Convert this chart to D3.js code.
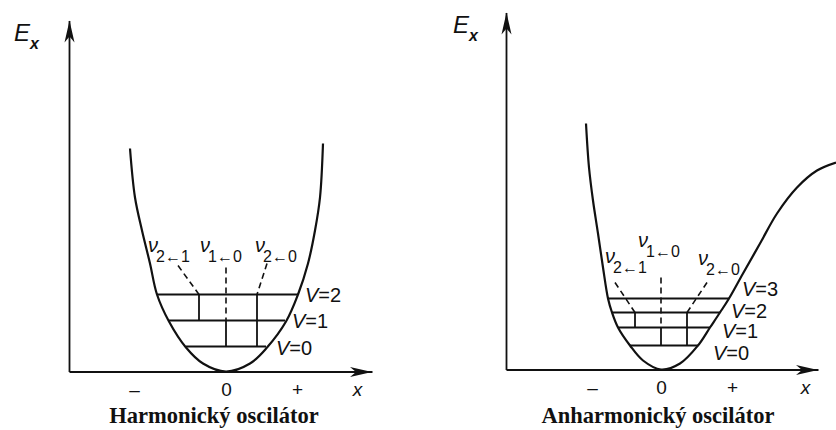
<!DOCTYPE html>
<html>
<head>
<meta charset="utf-8">
<script src="https://cdn.jsdelivr.net/npm/d3@7"></script>
<style>
  body { margin: 0; background: #fff; }
  svg { display: block; }
  .curve { fill: none; stroke: #111; stroke-width: 2.2; }
  .level { stroke: #111; stroke-width: 1.8; }
  .trans { stroke: #111; stroke-width: 1.8; }
  .dash { stroke: #111; stroke-width: 1.6; stroke-dasharray: 6 4; fill: none; }
  .arrow { fill: #111; }
  .axis path { stroke: #111; stroke-width: 1.8; }
  .axis text { font-family: "Liberation Sans", Arial, sans-serif; fill: #111; }
  .lbl { font-family: "Liberation Sans", Arial, sans-serif; fill: #111; }
  .title { font-family: "Liberation Serif", "Times New Roman", serif; font-weight: bold; font-size: 22.5px; fill: #111; }
</style>
</head>
<body>
<div id="vis"></div>
<script>
// harmonic oscillator (x and E in arbitrary units)
const HARM_X = [-9.6, -9.1, -8.4, -7.6, -6.9, -5.7, -4.0, -2.3, 0, 2.4, 4.1, 6.0, 7.2, 8.2, 8.9, 9.4, 9.7];
const HARM_E = [22.3, 17.4, 14.1, 10.8, 7.7, 5.0, 2.4, 0.8, 0, 0.8, 2.4, 5.0, 7.7, 10.8, 14.1, 17.4, 22.8];
const HARM_LEVEL_NAMES = ["V=0", "V=1", "V=2"];
const HARM_LEVELS = [2.5, 5.1, 7.7];
const HARM_LEVEL_LEFT = [-4.0, -5.8, -6.9];
const HARM_LEVEL_RIGHT = [4.0, 5.9, 7.2];
const HARM_LEVEL_LBL_X = [5.0, 6.6, 7.9];
const HARM_LEVEL_LBL_E = [1.65, 4.35, 6.95];
const HARM_TRANS = ["2←1", "1←0", "2←0"];
const HARM_TRANS_X = [-2.7, 0, 3.1];
const HARM_TRANS_FROM = [1, 0, 0];
const HARM_TRANS_TO = [2, 1, 2];
const HARM_DASH_X = [-4.8, 0, 4.1];
const HARM_DASH_E = [10.6, 10.4, 10.8];
const HARM_TRANS_LBL_X = [-7.8, -2.6, 2.9];
const HARM_TRANS_LBL_E = [11.95, 11.95, 11.95];
const HARM_TICKS = [-9.2, 0, 7.1, 13.1];
const HARM_TICK_LABELS = ["–", "0", "+", "x"];

// anharmonic oscillator
const ANH_X = [-7.5, -7.2, -6.8, -6.3, -5.8, -5.3, -4.9, -4.3, -3.1, -1.8, 0, 1.9, 3.7, 4.9, 5.9, 6.8, 8.2, 9.9, 11.6, 13.6, 15.6, 17.5];
const ANH_E = [24.6, 20.2, 16.9, 13.6, 10.2, 7.1, 5.7, 4.2, 2.4, 0.9, 0, 0.6, 2.4, 4.2, 5.7, 7.1, 9.6, 12.6, 15.6, 18.2, 19.9, 20.7];
const ANH_LEVEL_NAMES = ["V=0", "V=1", "V=2", "V=3"];
const ANH_LEVELS = [2.4, 4.2, 5.7, 7.1];
const ANH_LEVEL_LEFT = [-3.1, -4.3, -4.9, -5.3];
const ANH_LEVEL_RIGHT = [3.7, 4.9, 5.9, 6.8];
const ANH_LEVEL_LBL_X = [5.2, 6.1, 7.0, 8.1];
const ANH_LEVEL_LBL_E = [1.0, 3.2, 5.2, 7.4];
const ANH_TRANS = ["2←1", "1←0", "2←0"];
const ANH_TRANS_X = [-2.6, 0, 2.6];
const ANH_TRANS_FROM = [1, 0, 0];
const ANH_TRANS_TO = [2, 1, 2];
const ANH_DASH_X = [-4.6, 0, 4.6];
const ANH_DASH_E = [8.7, 9.2, 8.7];
const ANH_TRANS_LBL_X = [-5.6, -2.3, 3.7];
const ANH_TRANS_LBL_E = [10.65, 12.25, 10.45];
const ANH_TICKS = [-6.9, 0, 7.1, 14.4];
const ANH_TICK_LABELS = ["–", "0", "+", "x"];

const FRAME_WIDTH = 836;
const FRAME_HEIGHT = 430;

const FRAME = d3.select("#vis")
                .append("svg")
                  .attr("width", FRAME_WIDTH)
                  .attr("height", FRAME_HEIGHT);

FRAME.append("rect").attr("width", FRAME_WIDTH).attr("height", FRAME_HEIGHT).attr("fill", "#fff");

function arrowHead(g, x, y, dir) {
  // long narrow arrow head with a notched back
  const pts = dir === "up"
    ? [[x, y], [x - 5, y + 22], [x, y + 16], [x + 5, y + 22]]
    : [[x, y], [x - 22, y - 5], [x - 16, y], [x - 22, y + 5]];
  g.append("path")
    .attr("class", "arrow")
    .attr("d", d3.line()(pts) + "Z");
}

function drawPanel(p) {
  const g = FRAME.append("g");
  const X = d3.scaleLinear().domain(p.xDomain).range(p.xRange);
  const Y = d3.scaleLinear().domain(p.eDomain).range(p.yRange);

  // axes
  g.append("g")
    .attr("class", "axis")
    .attr("transform", "translate(0," + Y(0) + ")")
    .call(d3.axisBottom(X).tickValues(p.ticks).tickSize(0).tickSizeOuter(0).tickPadding(11)
      .tickFormat((d, i) => p.tickLabels[i]))
    .call(a => a.selectAll("text").attr("font-size", "19px")
      .attr("font-style", (d, i) => i === 3 ? "italic" : "normal"));

  g.append("g")
    .attr("class", "axis")
    .attr("transform", "translate(" + X(p.xDomain[0]) + ",0)")
    .call(d3.axisLeft(Y).tickValues([]).tickSizeOuter(0));

  arrowHead(g, X(p.xDomain[1]), Y(0) + 0.5, "right");
  arrowHead(g, X(p.xDomain[0]) + 0.5, Y(p.eDomain[1]), "up");

  // E_x label
  const ex = g.append("text").attr("class", "lbl")
    .attr("x", X(p.xDomain[0]) - p.exOffset)
    .attr("y", Y(p.eDomain[1]) + 20)
    .attr("font-size", "24px").attr("font-style", "italic");
  ex.append("tspan").text("E");
  ex.append("tspan").attr("dy", 8).attr("font-size", "16px").attr("font-weight", "bold").text("x");

  // potential curve
  const pts = p.xs.map((x, i) => [X(x), Y(p.es[i])]);
  g.append("path")
    .attr("class", "curve")
    .attr("d", d3.line().curve(d3.curveCatmullRom.alpha(0.5))(pts));

  // vibrational levels
  g.selectAll(".level")
    .data(p.levels)
    .enter()
    .append("line")
      .attr("class", "level")
      .attr("x1", (d, i) => X(p.levelLeft[i]))
      .attr("x2", (d, i) => X(p.levelRight[i]))
      .attr("y1", d => Y(d))
      .attr("y2", d => Y(d));

  g.selectAll(".vlbl")
    .data(p.levelNames)
    .enter()
    .append("text")
      .attr("class", "lbl")
      .attr("font-size", "20px")
      .attr("x", (d, i) => X(p.levelLblX[i]))
      .attr("y", (d, i) => Y(p.levelLblE[i]))
      .each(function (d) {
        const t = d3.select(this);
        t.append("tspan").attr("font-style", "italic").text(d[0]);
        t.append("tspan").text(d.slice(1));
      });

  // transitions: solid between levels, dashed leader up to the label
  p.trans.forEach((name, i) => {
    const tx = X(p.transX[i]);
    g.append("line").attr("class", "trans")
      .attr("x1", tx).attr("x2", tx)
      .attr("y1", Y(p.levels[p.transFrom[i]]))
      .attr("y2", Y(p.levels[p.transTo[i]]));
    g.append("line").attr("class", "dash")
      .attr("x1", X(p.dashX[i])).attr("y1", Y(p.dashE[i]))
      .attr("x2", tx).attr("y2", Y(p.levels[p.transTo[i]]));

    const t = g.append("text").attr("class", "lbl")
      .attr("x", X(p.transLblX[i]))
      .attr("y", Y(p.transLblE[i]));
    t.append("tspan").attr("font-size", "20px").attr("font-style", "italic").text("ν");
    t.append("tspan").attr("dy", 10).attr("dx", -2).attr("font-size", "16px").text(name);
  });

  // title
  g.append("text").attr("class", "title")
    .attr("text-anchor", "middle")
    .attr("x", p.titleX).attr("y", 423)
    .text(p.title);
}

drawPanel({
  xs: HARM_X, es: HARM_E,
  xDomain: [-15.7, 14.6], xRange: [69, 372],
  eDomain: [0, 35.1], yRange: [371.5, 20.5],
  levels: HARM_LEVELS, levelNames: HARM_LEVEL_NAMES,
  levelLeft: HARM_LEVEL_LEFT, levelRight: HARM_LEVEL_RIGHT,
  levelLblX: HARM_LEVEL_LBL_X, levelLblE: HARM_LEVEL_LBL_E,
  trans: HARM_TRANS, transX: HARM_TRANS_X, transFrom: HARM_TRANS_FROM, transTo: HARM_TRANS_TO,
  dashX: HARM_DASH_X, dashE: HARM_DASH_E,
  transLblX: HARM_TRANS_LBL_X, transLblE: HARM_TRANS_LBL_E,
  ticks: HARM_TICKS, tickLabels: HARM_TICK_LABELS,
  exOffset: 55,
  title: "Harmonický oscilátor", titleX: 214
});

drawPanel({
  xs: ANH_X, es: ANH_E,
  xDomain: [-15.5, 15.7], xRange: [506, 818],
  eDomain: [0, 35.7], yRange: [369.5, 12.5],
  levels: ANH_LEVELS, levelNames: ANH_LEVEL_NAMES,
  levelLeft: ANH_LEVEL_LEFT, levelRight: ANH_LEVEL_RIGHT,
  levelLblX: ANH_LEVEL_LBL_X, levelLblE: ANH_LEVEL_LBL_E,
  trans: ANH_TRANS, transX: ANH_TRANS_X, transFrom: ANH_TRANS_FROM, transTo: ANH_TRANS_TO,
  dashX: ANH_DASH_X, dashE: ANH_DASH_E,
  transLblX: ANH_TRANS_LBL_X, transLblE: ANH_TRANS_LBL_E,
  ticks: ANH_TICKS, tickLabels: ANH_TICK_LABELS,
  exOffset: 53,
  title: "Anharmonický oscilátor", titleX: 658
});
</script>
</body>
</html>
